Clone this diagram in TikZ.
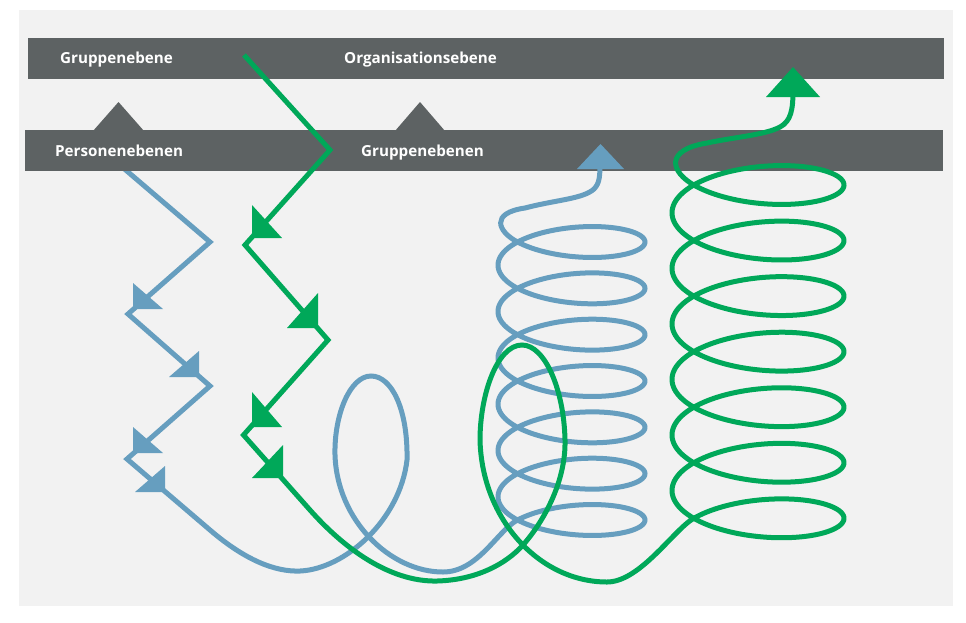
\documentclass[tikz,border=0pt]{standalone}
\usepackage{fontspec}
\newfontfamily\lblfont{Open Sans}
\definecolor{bluec}{RGB}{102,158,191}
\definecolor{greenc}{RGB}{0,168,89}
\definecolor{barc}{RGB}{93,98,99}
\definecolor{panelc}{RGB}{242,242,242}
\begin{document}
\begin{tikzpicture}[x=1pt,y=-1pt,line join=miter,
  bluel/.style={draw=bluec,line width=5pt},
  greenl/.style={draw=greenc,line width=5pt},
  bluetip/.style={fill=bluec},
  greentip/.style={fill=greenc},
  barfill/.style={fill=barc},
  lbl/.style={text=white,font=\lblfont\bfseries\fontsize{15.2}{18}\selectfont,inner sep=0pt,anchor=base west}]
\useasboundingbox (0,0) rectangle (966,622);
\fill[white] (0,0) rectangle (966,622);
\fill[panelc] (19,10) rectangle (953,606);
% bars
\fill[barfill] (28,38) rectangle (944,79);
\fill[barfill] (25,130) rectangle (943,171);
\fill[barfill] (93,131) -- (118.5,102) -- (144,131) -- cycle;
\fill[barfill] (395,131) -- (420,102) -- (445,131) -- cycle;
% blue coordinates
\coordinate (b0) at (121,166);
\coordinate (b1) at (210,242);
\coordinate (b2) at (128,314);
\coordinate (b3) at (210,386);
\coordinate (b4) at (127,459);
\coordinate (b5) at (210,530);
\coordinate (bbot) at (300,571);
\coordinate (bloopr) at (407,460);
\coordinate (blooptop) at (371,376);
\coordinate (bloopl) at (335,455);
\coordinate (bbot2) at (443,572);
\coordinate (bspin) at (517.5,520);
\coordinate (bcurl) at (525,208);
\coordinate (bbend) at (594,189);
\coordinate (bend) at (600,160);
\begin{scope}
\clip (0,171) rectangle (966,622) (560,100) rectangle (640,171.5);
\draw[bluel] (b0) -- (b1) -- (b2) -- (b3) -- (b4) -- (b5)
  .. controls (245,560) and (275,572) .. (bbot)
  .. controls (345,569) and (400,520) .. (bloopr)
  .. controls (408,410) and (392,376) .. (blooptop)
  .. controls (350,376) and (334,415) .. (bloopl)
  .. controls (337,520) and (390,572) .. (bbot2)
  .. controls (478,572) and (497.5,530.6) .. (bspin)
  -- plot[domain=0:42.489,samples=800]
     ({571.5+73.5*cos(deg(40.094-\x))},{242+7.374*(40.094-\x)-26*sin(deg(40.094-\x))})
  .. controls (497.5,231.4) and (490,213) .. (bcurl)
  .. controls (555,200) and (583,199) .. (bbend)
  .. controls (600,183) and (600,175) .. (bend);
\end{scope}
% blue arrowheads
\fill[bluetip] (133,309) -- (133,283) -- (163,309) -- cycle;
\fill[bluetip] (199,377) -- (199,351) -- (169,377) -- cycle;
\fill[bluetip] (133,453) -- (133,427) -- (163,453) -- cycle;
\fill[bluetip] (165,492) -- (165,466) -- (135,492) -- cycle;
\fill[bluetip] (600.5,144) -- (577,169) -- (624,169) -- cycle;
% green coordinates
\coordinate (g0) at (244,55);
\coordinate (g1) at (330,150);
\coordinate (g2) at (245,245);
\coordinate (g3) at (328,340);
\coordinate (g4) at (243.5,435);
\coordinate (g5) at (310,510);
\coordinate (gbot) at (437,581);
\coordinate (gcross) at (523,545);
\coordinate (gellr) at (565,440);
\coordinate (gelltop) at (522,345);
\coordinate (gelll) at (480,440);
\coordinate (gbot2) at (607,582);
\coordinate (gspin) at (693.7,518.3);
\coordinate (gcurl) at (707,143);
\coordinate (gbend) at (780,127);
\coordinate (gend) at (793,90);
\draw[greenl] (g0) -- (g1) -- (g2) -- (g3) -- (g4) -- (g5)
  .. controls (350,555) and (395,582) .. (gbot)
  .. controls (475,580) and (505,565) .. (gcross)
  .. controls (545,520) and (566,480) .. (gellr)
  .. controls (564,390) and (545,345) .. (gelltop)
  .. controls (497,345) and (480,395) .. (gelll)
  .. controls (482,520) and (540,582) .. (gbot2)
  .. controls (640,582) and (673.7,529.8) .. (gspin)
  -- plot[domain=0:42.528,samples=800]
     ({758+86*cos(deg(40.1136-\x))},{185+8.841*(40.1136-\x)-32.1*sin(deg(40.1136-\x))})
  .. controls (670.8,171.9) and (664,150) .. (gcurl)
  .. controls (735,137) and (765,135) .. (gbend)
  .. controls (791,121) and (793,110) .. (gend);
% green arrowheads
\fill[greentip] (252,238) -- (252,205) -- (282,238) -- cycle;
\fill[greentip] (318,328) -- (318,293) -- (287,328) -- cycle;
\fill[greentip] (252,427) -- (252,392) -- (282,427) -- cycle;
\fill[greentip] (283,478) -- (283,445) -- (252,478) -- cycle;
\fill[greentip] (793,67) -- (766,97) -- (820,97) -- cycle;
% labels
\node[lbl] (t1) at (60,63.3) {Gruppenebene};
\node[lbl] (t2) at (344,63.3) {Organisationsebene};
\node[lbl] (t3) at (55,156) {Personenebenen};
\node[lbl] (t4) at (361,156) {Gruppenebenen};
\end{tikzpicture}
\end{document}
